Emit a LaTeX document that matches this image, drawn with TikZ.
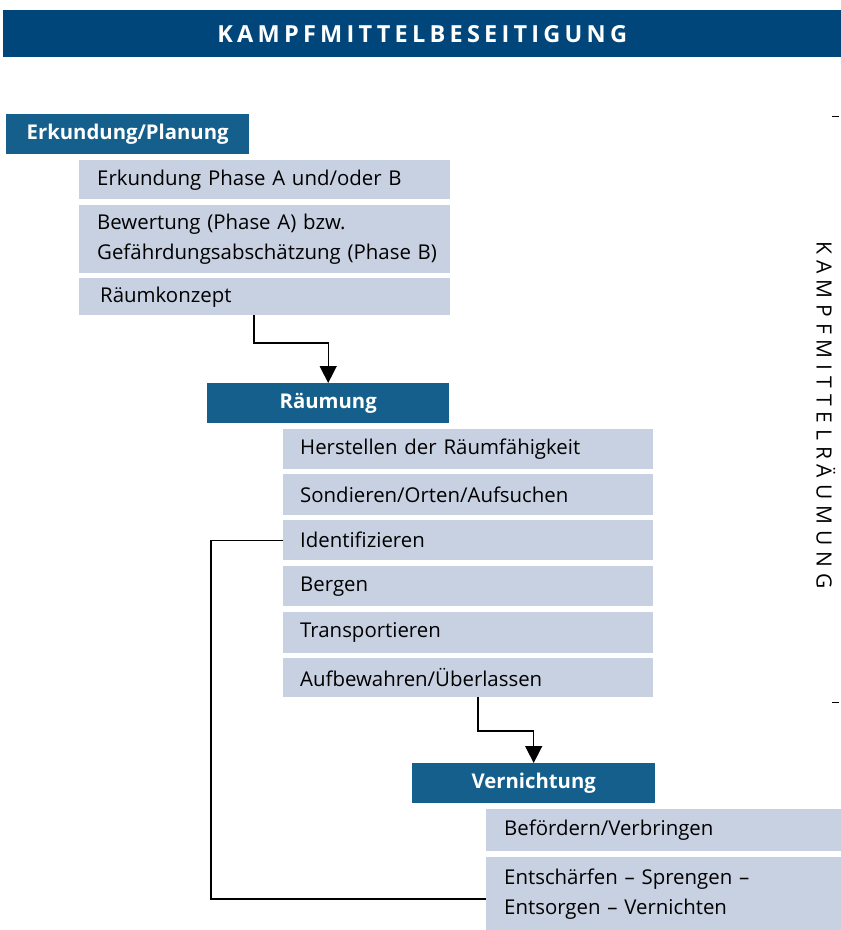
\documentclass[tikz,border=0pt]{standalone}
\usepackage{fontspec}
\setmainfont{Open Sans}
\usetikzlibrary{arrows.meta}
\definecolor{titleblue}{RGB}{0,70,122}
\definecolor{headblue}{RGB}{20,95,140}
\definecolor{lightbox}{RGB}{200,209,226}
\tikzset{
  head/.style={fill=headblue, text=white, font=\fontsize{20.3}{24}\selectfont\bfseries, anchor=north west, inner sep=0pt, align=center},
  sub/.style={fill=lightbox, text=black, font=\fontsize{20.4}{30}\selectfont, anchor=north west, inner ysep=0pt, inner xsep=18pt, align=left},
  conn/.style={line width=1.4pt, black},
  arr/.style={conn, -{Triangle[length=17pt,width=17pt]}},
}
\begin{document}
\begin{tikzpicture}[x=1pt,y=-1pt]
\useasboundingbox (0,0) rectangle (841,930);
% title
\node[fill=titleblue, text=white, anchor=north west, minimum width=838pt, minimum height=47pt, inner sep=0pt,
  font=\fontsize{23.5}{28}\selectfont\bfseries\addfontfeature{LetterSpace=18}] (title) at (3,10) {KAMPFMITTELBESEITIGUNG};
% right vertical label
\node[rotate=-90, font=\fontsize{21}{24}\selectfont\addfontfeature{LetterSpace=28}] (vlabel) at (826,415) {KAMPFMITTELRÄUMUNG};
\draw[line width=1pt] (832,116) -- (839,116);
\draw[line width=1pt] (832,702) -- (839,702);
% Erkundung/Planung
\node[head, minimum width=243pt, minimum height=40pt] (ep) at (6,114) {Erkundung/Planung};
\node[sub, minimum width=371pt, minimum height=39pt, text width=335pt] (e1) at (79,160) {Erkundung Phase A und/oder B};
\node[sub, minimum width=371pt, minimum height=68pt, text width=335pt] (e2) at (79,205) {Bewertung (Phase A) bzw.\\\mbox{Gefährdungsabschätzung (Phase B)}};
\node[sub, minimum width=371pt, minimum height=37pt, text width=329pt, inner xsep=21pt] (e3) at (79,278) {Räumkonzept};
% Räumung
\node[head, minimum width=242pt, minimum height=40pt] (rm) at (207,383) {Räumung};
\node[sub, minimum width=370pt, minimum height=40pt, text width=336pt, inner xsep=17pt] (r1) at (283,429) {Herstellen der Räumfähigkeit};
\node[sub, minimum width=370pt, minimum height=41pt, text width=336pt, inner xsep=17pt] (r2) at (283,474) {Sondieren/Orten/Aufsuchen};
\node[sub, minimum width=370pt, minimum height=40pt, text width=336pt, inner xsep=17pt] (r3) at (283,520) {Identifizieren};
\node[sub, minimum width=370pt, minimum height=40pt, text width=336pt, inner xsep=17pt] (r4) at (283,566) {Bergen};
\node[sub, minimum width=370pt, minimum height=41pt, text width=336pt, inner xsep=17pt] (r5) at (283,612) {Transportieren};
\node[sub, minimum width=370pt, minimum height=39pt, text width=336pt, inner xsep=17pt] (r6) at (283,658) {Aufbewahren/Überlassen};
% Vernichtung
\node[head, minimum width=243pt, minimum height=40pt] (vn) at (412,763) {Vernichtung};
\node[sub, minimum width=355pt, minimum height=42pt, text width=319pt] (v1) at (486,809) {Befördern/Verbringen};
\node[sub, minimum width=355pt, minimum height=73pt, text width=319pt] (v2) at (486,857) {Entschärfen – Sprengen –\\Entsorgen – Vernichten};
% connectors
\coordinate (k1) at (254,343);
\coordinate (k2) at (478,731);
\coordinate (k3) at (211,899);
\draw[arr] (e3.south -| k1) -- (k1) -| (rm.north);
\draw[arr] (r6.south -| k2) -- (k2) -| (vn.north);
\draw[conn] (r3.west) -| (k3) -- (k3 -| v2.west);
\end{tikzpicture}
\end{document}
